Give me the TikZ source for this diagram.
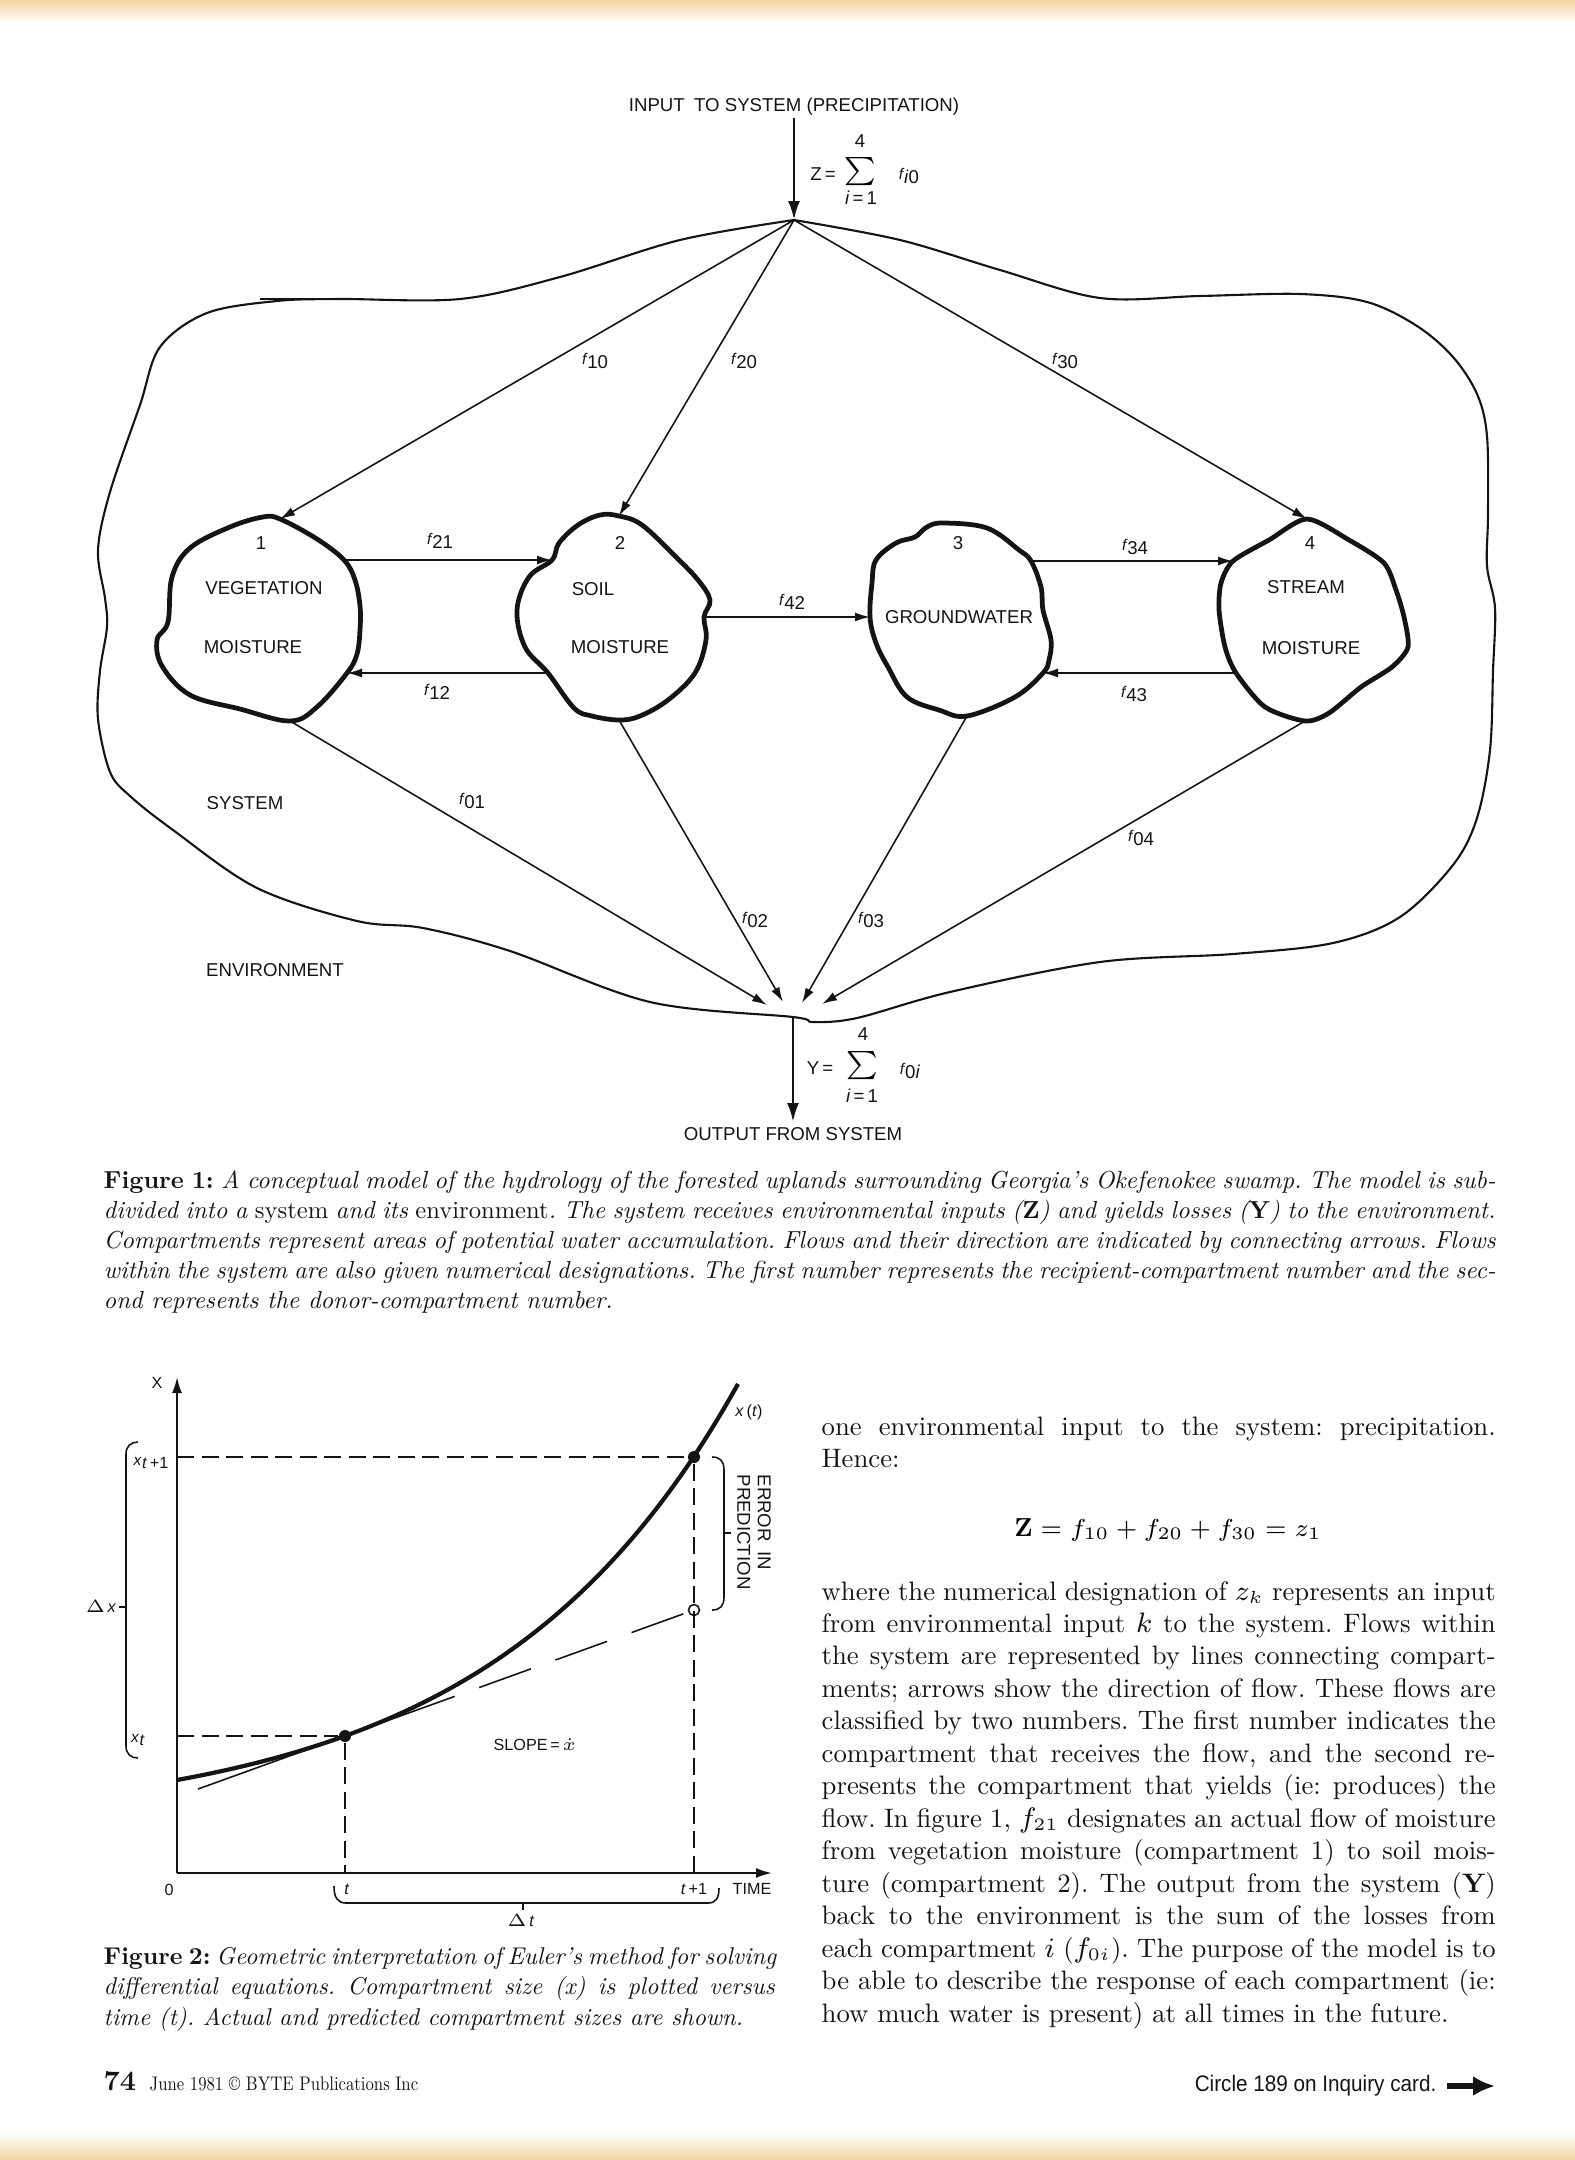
\documentclass[tikz,border=0pt]{standalone}
\usepackage{fontspec}
\usepackage{graphicx}
\usepackage{amsmath}
\usetikzlibrary{positioning,arrows.meta}
\setmainfont{lmroman10-regular.otf}[BoldFont=lmroman10-bold.otf,
  ItalicFont=lmroman10-italic.otf, BoldItalicFont=lmroman10-bolditalic.otf]
\newfontfamily\dgmfont{Liberation Sans}
\frenchspacing
\definecolor{ink}{HTML}{141414}
\definecolor{scanedge}{HTML}{F3D6A2}
\newcommand{\dgm}{\dgmfont\fontsize{5.3}{6.4}\selectfont}
\newcommand{\gdgm}{\dgmfont\fontsize{4.6}{5.6}\selectfont}
\newcommand{\sublbl}[2]{\raisebox{0.45ex}{\fontsize{4.4}{5}\selectfont\itshape #1}\kern0.05em#2}
\newcommand{\fsub}[1]{\sublbl{f}{#1}}
\newcommand{\jline}[1]{\hbox to \hsize{\spaceskip=0pt\xspaceskip=0pt\relax #1}}
\newcommand{\bodytxt}{\fontsize{7.6}{9.24}\selectfont}
\newcommand{\capttxt}{\fontsize{7.0}{8.6}\selectfont\itshape}
\newcommand{\captbtxt}{\fontsize{6.9}{8.8}\selectfont\itshape}
\tikzset{
  lbl/.style   = {font=\dgm, inner sep=0pt, text=ink},
  glbl/.style  = {font=\gdgm, inner sep=0pt, text=ink},
  comp/.style  = {draw=ink, line width=1.35pt, line join=round},
  bound/.style = {draw=ink, line width=0.6pt},
  flow/.style  = {->, draw=ink, line width=0.45pt, >={Latex[length=1.5mm,width=0.9mm]}},
  io/.style    = {->, draw=ink, line width=0.8pt, >={Latex[length=1.9mm,width=1.2mm]}},
}
\tikzset{
  axis/.style      = {->, draw=ink, line width=0.6pt, >={Latex[length=1.6mm,width=1.0mm]}},
  guide/.style     = {draw=ink, line width=0.45pt, dash pattern=on 1.7mm off 0.75mm},
  slope/.style     = {draw=ink, line width=0.45pt},
  slopedash/.style = {draw=ink, line width=0.45pt, dash pattern=on 5.5mm off 2.6mm},
  actual/.style    = {draw=ink, line width=1.2pt},
  brace/.style     = {draw=ink, line width=0.45pt},
  ptdot/.style     = {fill=ink, circle, inner sep=0pt, minimum size=1.2mm},
  ptopen/.style    = {draw=ink, circle, inner sep=0pt, minimum size=1.1mm, line width=0.45pt},
  capt/.style      = {inner sep=0pt, anchor=base west, align=justify, text=ink},
}

\begin{document}
\begin{tikzpicture}[x=0.1mm,y=-0.1mm]
\useasboundingbox (0,0) rectangle (1575,2160);

% ------------------------------------------------------------------ scan edges
\fill[top color=scanedge, bottom color=white] (0,0) rectangle (1575,22);
\fill[top color=white, bottom color=scanedge] (0,2132) rectangle (1575,2160);

% ------------------------------------------------------------------ hubs
\coordinate (insrc)  at (794,118);
\coordinate (hubtop) at (794,220);
\coordinate (hubbot) at (793,1017);
\coordinate (outend) at (793,1122);

% ------------------------------------------------------------------ system boundary
\draw[bound] plot[smooth, tension=0.55] coordinates {
  (794,220) (900,240) (1000,270) (1100,298) (1200,296) (1300,294) (1367,302)
  (1417,326) (1453,357) (1477,394) (1487,436) (1488,514) (1487,566) (1495,608)
  (1493,671) (1490,750) (1477,818) (1453,865) (1400,917) (1333,943) (1233,954)
  (1100,962) (950,992) (857,1018) (813,1022) (793,1017) (650,1002) (510,951)
  (423,928) (357,921) (257,888) (173,830) (130,796) (110,772) (98,719) (100,671)
  (107,627) (105,598) (98,550) (110,492) (140,405) (160,347) (207,313) (277,301)
  (340,299) (460,299) (560,277) (680,240) (794,220)};
\draw[bound] (260,299) -- (340,299);

% ------------------------------------------------------------------ compartment edge points
\coordinate (c1top) at (280,519);  \coordinate (c1r1) at (344,560);
\coordinate (c1r2)  at (347,673);  \coordinate (c1bot) at (290,721);
\coordinate (c2top) at (619,516);  \coordinate (c2l1) at (552,560);
\coordinate (c2l2)  at (548,673);  \coordinate (c2r) at (704,617);
\coordinate (c2bot) at (619,720);
\coordinate (c3l)   at (870,617);  \coordinate (c3r1) at (1031,561);
\coordinate (c3r2)  at (1043,673); \coordinate (c3bot) at (967,716);
\coordinate (c4top) at (1307,519); \coordinate (c4l1) at (1233,561);
\coordinate (c4l2)  at (1236,673); \coordinate (c4bot) at (1305,721);
\coordinate (o1) at (767,1005);    \coordinate (o2) at (783,1002);
\coordinate (o3) at (802,1003);    \coordinate (o4) at (822,1004);

% ------------------------------------------------------------------ compartments
\draw[comp] plot[smooth cycle, tension=0.6] coordinates {
  (263,517) (c1top) (317,539) (c1r1) (355,580) (360,606) (360,630) (357,654)
  (c1r2) (317,707) (c1bot) (240,709) (190,695) (162,666) (157,640) (168,622)
  (172,577) (190,548) (230,527)};
\draw[comp] plot[smooth cycle, tension=0.6] coordinates {
  (600,515) (c2top) (642,525) (676,557) (698,580) (710,600) (c2r) (706,640)
  (695,673) (668,700) (640,716) (c2bot) (592,716) (574,708) (c2l2) (525,647)
  (517,610) (529,577) (c2l1) (559,543) (578,525)};
\draw[comp] plot[smooth cycle, tension=0.6] coordinates {
  (943,523) (987,528) (1019,550) (c3r1) (1041,587) (1043,610) (1051,640)
  (1049,660) (c3r2) (1015,697) (c3bot) (939,710) (907,697) (888,667) (876,643)
  (c3l) (872,583) (876,560) (896,543) (915,537) (927,527)};
\draw[comp] plot[smooth cycle, tension=0.45] coordinates {
  (c4top) (1349,540) (1384,563) (1396,590) (1404,617) (1408,647) (1392,667)
  (1361,687) (1329,713) (c4bot) (1265,707) (c4l2) (1225,647) (1219,610)
  (1221,583) (c4l1) (1269,540)};

\node[lbl] (n1)   at (261,543) {1};
\node[lbl] (veg)  at (264,588) {VEGETATION};
\node[lbl] (vegm) at (253,647) {MOISTURE};
\node[lbl] (n2)   at (620,543) {2};
\node[lbl] (soil) at (593,589) {SOIL};
\node[lbl] (soilm) at (620,647) {MOISTURE};
\node[lbl] (n3)   at (958,543) {3};
\node[lbl] (gw)   at (959,617) {GROUNDWATER};
\node[lbl] (n4)   at (1310,543) {4};
\node[lbl] (strm) at (1306,587) {STREAM};
\node[lbl] (strmm) at (1311,648) {MOISTURE};

% ------------------------------------------------------------------ input / output
\node[lbl] (intxt) at (794,107) {INPUT\enspace TO SYSTEM (PRECIPITATION)};
\draw[io] (insrc) -- (hubtop);
\node[lbl] (zeq)   at (823,174) {Z\,=};
\node[inner sep=0pt, font=\fontsize{8}{9}\selectfont] (zsum) at (860,172) {$\sum$};
\node[lbl] (ztop)  at (860,141) {4};
\node[lbl] (zbot)  at (861,198) {\textit{i}\,=\,1};
\node[lbl] (zflow) at (909,176) {\fsub{\textit{i}0}};

\draw[io] (hubbot) -- (outend);
\node[lbl] (outtxt) at (793,1134) {OUTPUT FROM SYSTEM};
\node[lbl] (yeq)   at (820,1068) {Y\,=};
\node[inner sep=0pt, font=\fontsize{8}{9}\selectfont] (ysum) at (862,1066) {$\sum$};
\node[lbl] (ytop)  at (863,1034) {4};
\node[lbl] (ybot)  at (862,1096) {\textit{i}\,=\,1};
\node[lbl] (yflow) at (910,1071) {\fsub{0\textit{i}}};

% ------------------------------------------------------------------ flows
\draw[flow] (hubtop) -- (c1top);
\draw[flow] (hubtop) -- (c2top);
\draw[flow] (hubtop) -- (c4top);
\draw[flow] (c1r1) -- (c2l1);
\draw[flow] (c2l2) -- (c1r2);
\draw[flow] (c2r) -- (c3l);
\draw[flow] (c3r1) -- (c4l1);
\draw[flow] (c4l2) -- (c3r2);
\foreach \s/\t in {c1bot/o1, c2bot/o2, c3bot/o3, c4bot/o4}{\draw[flow] (\s) -- (\t);}

\node[lbl] (f10) at (595,361) {\fsub{10}};
\node[lbl] (f20) at (744,361) {\fsub{20}};
\node[lbl] (f30) at (1065,361) {\fsub{30}};
\node[lbl] (f21) at (440,541) {\fsub{21}};
\node[lbl] (f12) at (437,692) {\fsub{12}};
\node[lbl] (f42) at (792,602) {\fsub{42}};
\node[lbl] (f34) at (1135,547) {\fsub{34}};
\node[lbl] (f43) at (1134,694) {\fsub{43}};
\node[lbl] (f01) at (472,801) {\fsub{01}};
\node[lbl] (f02) at (755,920) {\fsub{02}};
\node[lbl] (f03) at (871,920) {\fsub{03}};
\node[lbl] (f04) at (1141,838) {\fsub{04}};

\node[lbl] (sys) at (245,803) {SYSTEM};
\node[lbl] (env) at (275,970) {ENVIRONMENT};

% ------------------------------------------------------------------ figure 1 caption
\node[capt, text width=139.2mm, font=\capttxt] (cap1) at (103,1188) {%
  \jline{{\upshape\bfseries Figure 1:} A conceptual model of the hydrology of the forested uplands surrounding Georgia's Okefenokee swamp. The model is sub-}
  \jline{divided into a {\upshape system} and its {\upshape environment}. The system receives environmental inputs ({\upshape\bfseries Z}) and yields losses ({\upshape\bfseries Y}) to the environment.}
  \jline{Compartments represent areas of potential water accumulation. Flows and their direction are indicated by connecting arrows. Flows}
  \jline{within the system are also given numerical designations. The first number represents the recipient-compartment number and the sec-}
  ond represents the donor-compartment number.};

% ------------------------------------------------------------------ figure 2: axes
\coordinate (org)  at (177,1873);
\coordinate (ytip) at (177,1377);
\coordinate (xtip) at (772,1873);
\draw[axis] (org) -- (ytip);
\draw[axis] (org) -- (xtip);
\node[glbl] (xax)   at (157,1383) {X};
\node[glbl] (zero)  at (169,1890) {0};
\node[glbl] (tlab)  at (347,1889) {\textit{t}};
\node[glbl] (t1lab) at (694,1889) {\textit{t}\,+1};
\node[glbl] (time)  at (752,1889) {TIME};

% ------------------------------------------------------------------ figure 2: curve and Euler step
\draw[actual] plot[domain=177:738, samples=80] (\x,{1824.85-44.85*exp(0.00407*(\x-177))});
\node[glbl] (xtl) at (749,1412) {\textit{x}\,(\textit{t})};
\node[ptdot] (pt)  at (345,1736) {};
\node[ptdot] (pt1) at (694,1457) {};
\node[ptopen] (pred) at (694,1610) {};
\coordinate (yt)  at (177,1736);
\coordinate (yt1) at (177,1457);
\coordinate (xt)  at (345,1873);
\coordinate (xt1) at (694,1873);
\coordinate (tanlo)  at (198,1789);
\coordinate (tanmid) at (403,1715);
\draw[guide] (yt1) -- (pt1);
\draw[guide] (yt) -- (pt);
\draw[guide] (pt) -- (xt);
\draw[guide] (pt1) -- (xt1);
\draw[slope] (tanlo) -- (tanmid);
\draw[slopedash] (tanmid) -- (pred);
\node[glbl] (slp) at (535,1745) {SLOPE\,=\,$\dot{x}$};

% braces
\draw[brace] (712,1457) .. controls (720,1457) and (724,1461) .. (724,1470) -- (724,1597)
  .. controls (724,1606) and (720,1610) .. (712,1610);
\draw[brace] (724,1533) -- (731,1533);
\node[lbl, rotate=-90, align=left, font=\dgmfont\fontsize{5.3}{5.8}\selectfont] (err) at (754,1532) {ERROR\enspace IN\\PREDICTION};
\draw[brace] (138,1442) .. controls (131,1442) and (126,1446) .. (126,1454) -- (126,1746)
  .. controls (126,1754) and (131,1758) .. (138,1758);
\draw[brace] (126,1607) -- (119,1607);
\node[glbl, anchor=east] (dx) at (117,1607) {$\Delta$\,\textit{x}};
\node[glbl] (xt1l) at (151,1463) {\sublbl{x}{\textit{t}\,+1}};
\node[glbl] (xtll) at (138,1740) {\sublbl{x}{\textit{t}}};
\draw[brace] (334,1886) .. controls (334,1898) and (338,1903) .. (346,1903) -- (708,1903)
  .. controls (716,1903) and (719,1898) .. (719,1888);
\draw[brace] (523,1903) -- (523,1910);
\node[glbl] (dt) at (521,1921) {$\Delta$\,\textit{t}};

% ------------------------------------------------------------------ figure 2 caption
\node[capt, text width=67.1mm, font=\captbtxt] (cap2) at (103,1964) {%
  \jline{{\upshape\bfseries Figure 2:} Geometric interpretation of Euler's method for solving}
  \jline{differential equations. Compartment size (x) is plotted versus}
  time (t). Actual and predicted compartment sizes are shown.};

% ------------------------------------------------------------------ body text
\node[capt, text width=67.4mm, font=\bodytxt] (bodya) at (821,1435) {%
  \jline{one environmental input to the system: precipitation.}
  Hence:};
\node[inner sep=0pt, anchor=base, font=\fontsize{7.4}{9}\selectfont] (zdef) at (1168,1536)
  {$\mathbf{Z} = f_{10} + f_{20} + f_{30} = z_1$};
\node[capt, text width=67.4mm, font=\bodytxt] (bodyb) at (821,1600) {%
  \jline{where the numerical designation of $z_k$ represents an input}
  \jline{from environmental input $k$ to the system. Flows within}
  \jline{the system are represented by lines connecting compart-}
  \jline{ments; arrows show the direction of flow. These flows are}
  \jline{classified by two numbers. The first number indicates the}
  \jline{compartment that receives the flow, and the second re-}
  \jline{presents the compartment that yields (ie: produces) the}
  \jline{flow. In figure 1, $f_{21}$ designates an actual flow of moisture}
  \jline{from vegetation moisture (compartment 1) to soil mois-}
  \jline{ture (compartment 2). The output from the system (\textbf{Y})}
  \jline{back to the environment is the sum of the losses from}
  \jline{each compartment $i$ ($f_{0i}$). The purpose of the model is to}
  \jline{be able to describe the response of each compartment (ie:}
  how much water is present) at all times in the future.};

% ------------------------------------------------------------------ footer
\node[capt, font=\bfseries\fontsize{8}{9}\selectfont] (pgno) at (103,2090) {74};
\node[capt, font=\fontsize{5.6}{6.5}\selectfont] (pgline) at (149,2090)
  {\scalebox{0.85}[1]{June 1981 \textcopyright\ BYTE Publications Inc}};
\node[capt, anchor=base east, font=\dgmfont\fontsize{6.4}{7.5}\selectfont] (circ) at (1437,2091)
  {\scalebox{0.92}[1]{Circle 189 on Inquiry card.}};
\coordinate (carr0) at (1447,2086);
\coordinate (carr1) at (1495,2086);
\draw[-{Latex[length=2.2mm,width=2mm]}, line width=1.6pt, draw=ink] (carr0) -- (carr1);

\end{tikzpicture}
\end{document}
